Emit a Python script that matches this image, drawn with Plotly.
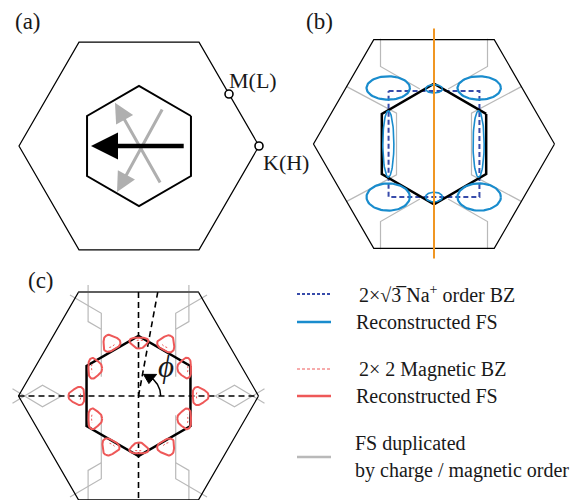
import numpy as np
import plotly.graph_objects as go

W, H = 586, 500
OFF = 8  # page body margin, so data coordinates equal screen pixels
SERIF = "Liberation Serif, Times New Roman, serif"

# ---- panel frames (pixel centre, pixels per k-unit) ----
PANEL_CX = [139.0, 434.0, 138.5]
PANEL_CY = [146.0, 144.0, 396.0]
PANEL_S = [120.0, 120.5, 120.0]

# ---- Brillouin zones ----
BZ_R = 1.0          # 1x1 BZ circumradius (flat top)
BZ_SMALL_R = 0.5    # 2x2 BZ circumradius (pointy top)

# ---- panel (a) ----
M_POINT = (0.75, 0.433)
K_POINT = (1.0, 0.0)
ARROW_BLACK = [(0.385, 0.0), (-0.40, 0.0)]              # tail, head
ARROWS_GRAY = [[(0.183, -0.317), (-0.20, 0.36)],
               [(0.20, 0.317), (-0.183, -0.383)]]

# ---- panel (b) ----
RECT_HALF = (0.377, 0.44)
ELL_CX = [-0.38, 0.375, -0.38, 0.375, -0.379, 0.37, 0.0, 0.0]
ELL_CY = [0.465, 0.465, -0.44, -0.44, 0.0, 0.0, 0.458, -0.44]
ELL_RX = [0.18, 0.18, 0.18, 0.18, 0.046, 0.046, 0.07, 0.07]
ELL_RY = [0.097, 0.097, 0.113, 0.113, 0.275, 0.275, 0.035, 0.04]
ORANGE_Y = (0.958, -0.95)
GRAY_B = [[(-0.444, 0.873), (-0.444, 0.644), (-0.117, 0.456)],
          [(-0.728, 0.478), (-0.381, 0.298), (-0.311, 0.256), (-0.311, 0.0)]]

# ---- panel (c) ----
PHI_DEG = 79.5
ARC_R = 0.185
ARC_END_DEG = 50
ARC_TIP_DEG = 77
POCKET_CX = [0.51, 0.235, -0.23, -0.51, -0.2375, 0.235,
             0.004, 0.004, 0.3875, -0.367, -0.367, 0.3875]
POCKET_CY = [0.0, 0.435, 0.44, 0.0, -0.425, -0.425,
             0.446, -0.4375, 0.233, 0.231, -0.19, -0.19]
POCKET_RX = [0.066, 0.066, 0.066, 0.066, 0.066, 0.066,
             0.045, 0.045, 0.057, 0.057, 0.057, 0.057]
POCKET_RY = [0.072, 0.072, 0.072, 0.072, 0.072, 0.072,
             0.076, 0.076, 0.082, 0.082, 0.082, 0.082]
POCKET_ROT = [0, 60, 120, 180, 240, 300, -90, 90, 180, 0, 0, 180]
GRAY_C = [[(-0.42, 0.925), (-0.42, 0.62), (-0.31, 0.556)],
          [(-0.571, 0.842), (-0.31, 0.689), (-0.31, 0.16)]]
GRAY_C_LEFT = [[(-1.05, -0.06), (-0.8, 0.09), (-0.64, 0.0), (-0.8, -0.09), (-1.05, 0.06)]]

# ---- legend ----
LEG_Y = [294, 322, 369, 396, 457]
LEG_TEXT_Y = [294, 322, 369, 396, 443, 470]
LEG_TEXT = ["2×√3\u0305 Na<sup>+</sup> order BZ", "Reconstructed FS",
            "2× 2 Magnetic BZ", "Reconstructed FS",
            "FS duplicated", "by charge / magnetic order"]

C_BLUE = "rgb(25,140,205)"
C_DBLUE = "rgb(55,75,170)"
C_RED = "rgb(238,88,88)"
C_GRAY = "rgb(185,185,185)"
C_ORANGE = "rgb(240,150,35)"

fig = go.Figure()


def px(p, kx, ky):
    kx = np.asarray(kx, float)
    ky = np.asarray(ky, float)
    return PANEL_CX[p] + PANEL_S[p] * kx, PANEL_CY[p] - PANEL_S[p] * ky


def line(p, pts, color, width, dash="solid", fill=None):
    pts = np.asarray(pts, float)
    x, y = px(p, pts[:, 0], pts[:, 1])
    fig.add_trace(go.Scatter(x=x, y=y, mode="lines",
                             line=dict(color=color, width=width, dash=dash),
                             fill="toself" if fill else None,
                             fillcolor=fill,
                             hoverinfo="skip", showlegend=False))


def hexagon(r, start_deg):
    a = np.deg2rad(start_deg + 60 * np.arange(7))
    return np.column_stack([r * np.cos(a), r * np.sin(a)])


def ellipse(cx, cy, rx, ry, n=80):
    t = np.linspace(0, 2 * np.pi, n)
    return np.column_stack([cx + rx * np.cos(t), cy + ry * np.sin(t)])


def pocket(cx, cy, rx, ry, rot, a=0.13, t0=0, t1=2 * np.pi, scale=1.0, n=90):
    t = np.linspace(t0, t1, n)
    r = (1 + a * np.cos(3 * t)) * scale
    lx, ly = rx * r * np.cos(t), ry * r * np.sin(t)
    c, s = np.cos(np.deg2rad(rot)), np.sin(np.deg2rad(rot))
    return np.column_stack([cx + c * lx - s * ly, cy + s * lx + c * ly])


def mirrored(seg, mx, my):
    return [(x * mx, y * my) for x, y in seg]


annos = []


def text(x, y, s, size=20, xanchor="center", italic=False):
    annos.append(dict(x=x, y=y, xref="x", yref="y", text=s, showarrow=False,
                      xanchor=xanchor, yanchor="middle",
                      font=dict(family=SERIF, size=size, color="rgb(25,25,25)",
                                style="italic" if italic else "normal")))


def arrow(p, tail, head, color, width, size):
    hx, hy = px(p, head[0], head[1])
    tx, ty = px(p, tail[0], tail[1])
    annos.append(dict(x=float(hx), y=float(hy), ax=float(tx), ay=float(ty),
                      xref="x", yref="y", axref="x", ayref="y", text="",
                      showarrow=True, arrowhead=2, arrowsize=size,
                      arrowwidth=width, arrowcolor=color, standoff=0))


# ================= panel (a) =================
line(0, hexagon(BZ_R, 0), "black", 1.2)
line(0, hexagon(BZ_SMALL_R, 30), "black", 2.0)
for tail, head in ARROWS_GRAY:
    arrow(0, tail, head, "rgb(175,175,175)", 3, 1.3)
arrow(0, ARROW_BLACK[0], ARROW_BLACK[1], "black", 4.5, 1.2)
for kp in (M_POINT, K_POINT):
    x, y = px(0, [kp[0]], [kp[1]])
    fig.add_trace(go.Scatter(x=x, y=y, mode="markers",
                             marker=dict(size=8, color="white",
                                         line=dict(color="black", width=1.6)),
                             hoverinfo="skip", showlegend=False))
text(253, 80, "M(L)", 22)
text(286, 162, "K(H)", 22)
text(28, 21, "(a)", 23)

# ================= panel (b) =================
for seg in GRAY_B:
    for mx in (1, -1):
        for my in (1, -1):
            line(1, mirrored(seg, mx, my), C_GRAY, 1.2)
line(1, hexagon(BZ_R, 0), "black", 1.2)
rx, ry = RECT_HALF
line(1, [(-rx, ry), (rx, ry), (rx, -ry), (-rx, -ry), (-rx, ry)], C_DBLUE, 2, "5px,3px")
line(1, hexagon(BZ_SMALL_R, 30), "black", 2.5)
for cx, cy, ex, ey in zip(ELL_CX, ELL_CY, ELL_RX, ELL_RY):
    line(1, ellipse(cx, cy, ex, ey), C_BLUE, 2.2 if ex > 0.1 else 1.6)
line(1, [(0, ORANGE_Y[0]), (0, ORANGE_Y[1])], C_ORANGE, 2)
text(319, 21, "(b)", 23)

# ================= panel (c) =================
for seg in GRAY_C:
    for mx in (1, -1):
        for my in (1, -1):
            line(2, mirrored(seg, mx, my), C_GRAY, 1.2)
for seg in GRAY_C_LEFT:
    for mx in (1, -1):
        line(2, mirrored(seg, mx, 1), C_GRAY, 1.2)
line(2, hexagon(BZ_R, 0), "black", 1.2)
line(2, [(-0.5, 0.866), (0.5, 0.866)], "rgb(95,95,95)", 2)
line(2, hexagon(BZ_SMALL_R, 30), "black", 2.5)
line(2, [(0, 0.866), (0, -0.9)], "black", 1.6, "6px,4px")
line(2, [(-1, 0), (1, 0)], "black", 1.6, "6px,4px")
phi = np.deg2rad(PHI_DEG)
line(2, [(0, 0), (0.866 / np.tan(phi), 0.866)], "black", 1.6, "6px,4px")
for cx, cy, prx, pry, rot in zip(POCKET_CX, POCKET_CY, POCKET_RX, POCKET_RY, POCKET_ROT):
    line(2, pocket(cx, cy, prx, pry, rot), C_RED, 2)
    line(2, pocket(cx, cy, prx, pry, rot, t0=2.3, t1=4.0, scale=0.5, n=20),
         C_RED, 1, "2px,2px")
ta = np.deg2rad(np.linspace(0, ARC_END_DEG + 3, 30))
line(2, np.column_stack([ARC_R * np.cos(ta), ARC_R * np.sin(ta)]), "black", 1.5)
# filled arrowhead at the end of the arc
tip = np.deg2rad(ARC_TIP_DEG)
base = np.deg2rad(ARC_END_DEG)
bx, by = ARC_R * np.cos(base), ARC_R * np.sin(base)
nx, ny = np.cos(base), np.sin(base)
hw = 0.05
head = [(ARC_R * np.cos(tip), ARC_R * np.sin(tip)),
        (bx + hw * nx, by + hw * ny), (bx - hw * nx, by - hw * ny),
        (ARC_R * np.cos(tip), ARC_R * np.sin(tip))]
line(2, head, "black", 1, fill="black")
text(166, 366, "ϕ", 31, italic=True)
text(41, 280, "(c)", 23)

# ================= legend =================
LEG_STYLE = [(C_DBLUE, 2, "3px,2px"), (C_BLUE, 2.5, "solid"),
             (C_RED, 1, "3px,2px"), (C_RED, 2.5, "solid"), (C_GRAY, 2.5, "solid")]
for yy, (col, wd, ds) in zip(LEG_Y, LEG_STYLE):
    fig.add_trace(go.Scatter(x=[297, 331], y=[yy, yy], mode="lines",
                             line=dict(color=col, width=wd, dash=ds),
                             hoverinfo="skip", showlegend=False))
LEG_X = [357, 354, 357, 354, 353, 353]
for xx, yy, s in zip(LEG_X, LEG_TEXT_Y, LEG_TEXT):
    text(xx, yy, s, 20, xanchor="left")

fig.update_layout(
    width=W, height=H, margin=dict(l=0, r=0, t=0, b=0),
    paper_bgcolor="white", plot_bgcolor="white",
    xaxis=dict(range=[OFF, W + OFF], visible=False, fixedrange=True),
    yaxis=dict(range=[H + OFF, OFF], visible=False, fixedrange=True),
    annotations=annos, showlegend=False,
)
fig.write_html("out.html")
